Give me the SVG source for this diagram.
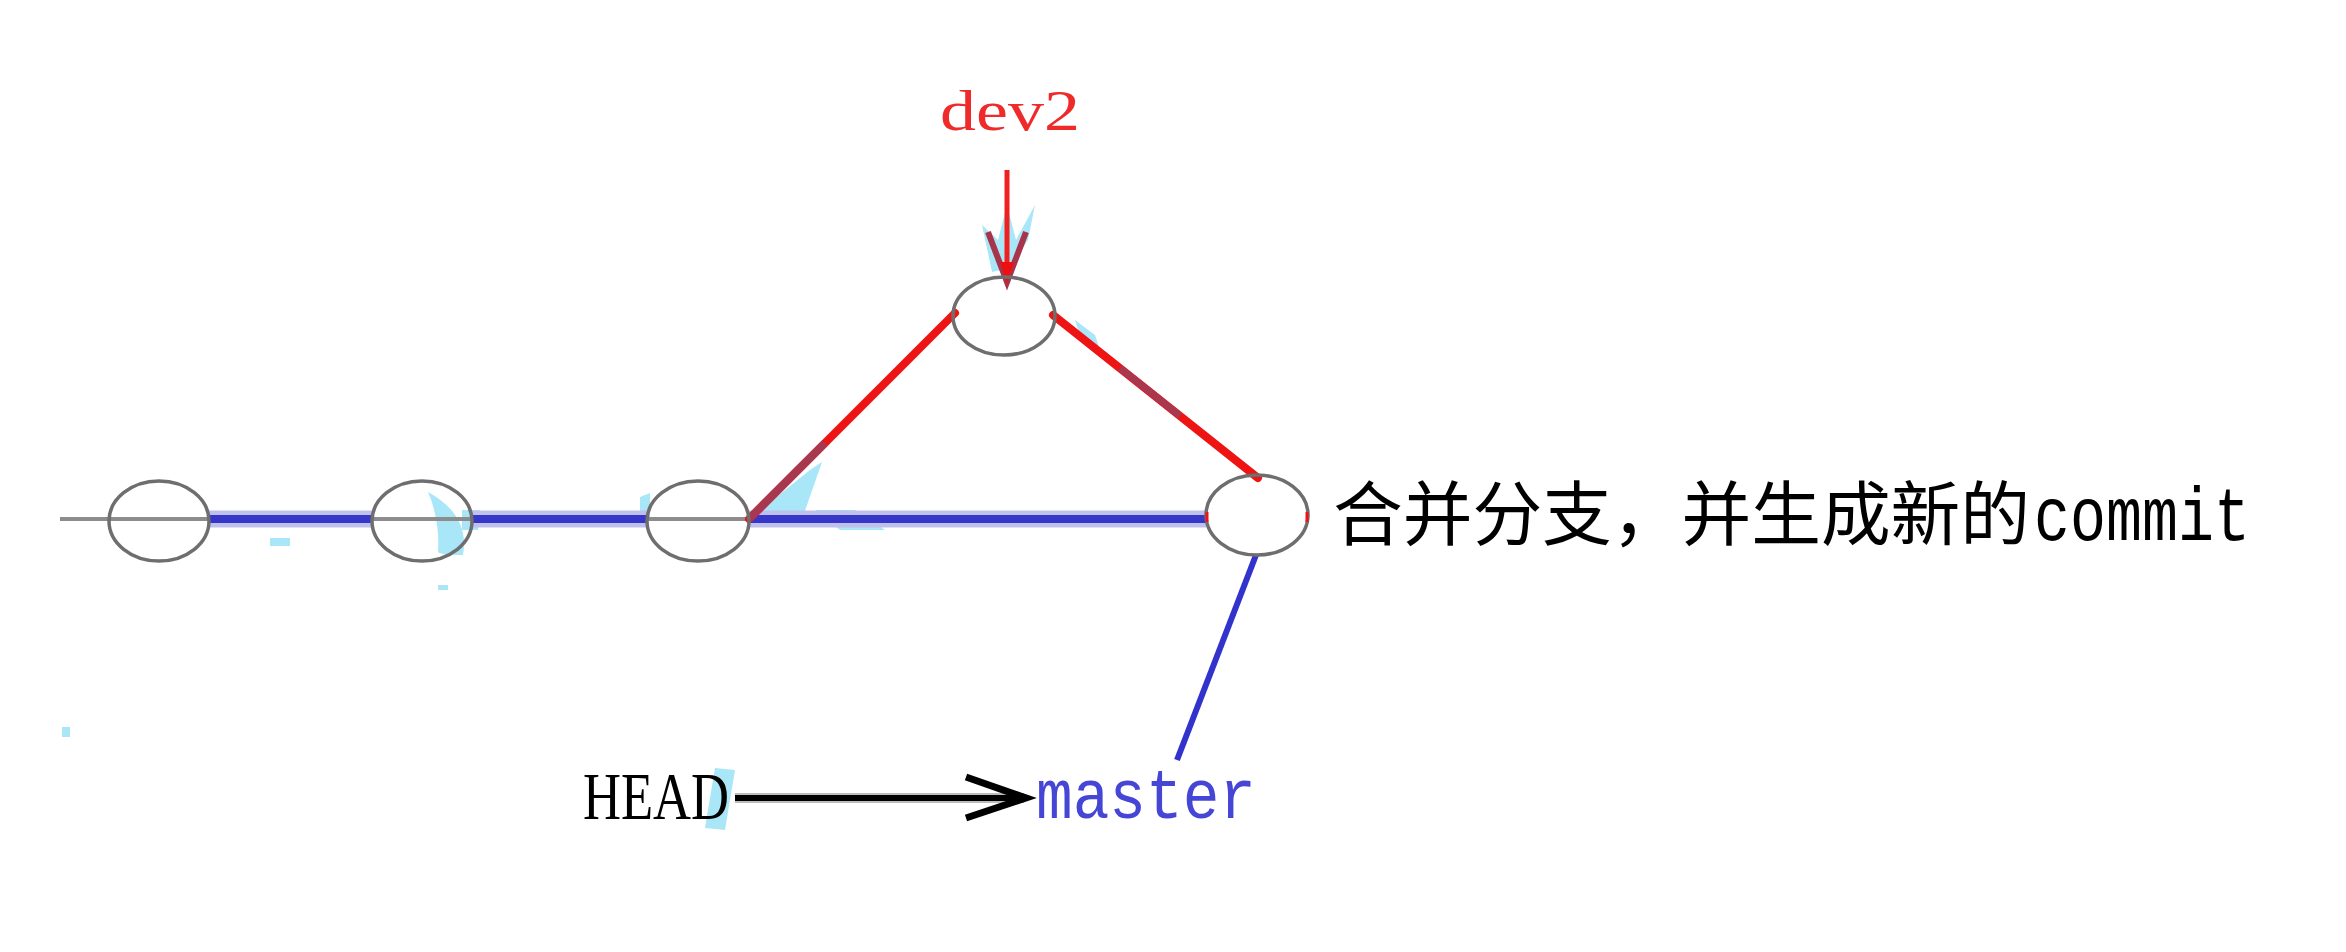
<svg xmlns="http://www.w3.org/2000/svg" width="2346" height="952" viewBox="0 0 2346 952">
<style>
.node{fill:none;stroke:#6e6e6e;stroke-width:3.5}
.blue{stroke:#3636c8;stroke-width:8;fill:none}
.halo{stroke:#c0c0ec;stroke-width:17;fill:none}
.red{stroke:#ee1414;stroke-width:8;fill:none;stroke-linecap:round}
.gray{stroke:#8c8c8c;stroke-width:4;fill:none}
.cyan{fill:#a8e6f8;stroke:none}
.serif{font-family:"Liberation Serif","Noto Sans CJK SC",serif}
.mono{font-family:"Liberation Mono","Noto Sans CJK SC",monospace}
</style>
<rect width="2346" height="952" fill="#ffffff"/>
<g id="artifacts">
<path class="cyan" d="M428,492 Q470,515 463,555 Q440,555 438,552 Q440,520 428,492 Z"/>
<path class="cyan" d="M462,510 L480,510 L478,530 L462,530 Z"/>
<path class="cyan" d="M760,510 L810,470 L822,462 L800,525 L760,525 Z"/>
<path class="cyan" d="M815,510 L855,510 L885,530 L840,530 Z"/>
<path class="cyan" d="M640,497 L650,493 L650,520 L640,520 Z"/>
<path class="cyan" d="M982,225 L998,240 L1007,205 L1016,240 L1035,205 L1028,240 L1010,268 L992,272 Z"/>
<path class="cyan" d="M715,768 L735,770 L725,830 L705,828 Z"/>
<path class="cyan" d="M1075,320 L1095,335 L1100,350 L1080,335 Z"/>
<path class="cyan" d="M62,727 L70,727 L70,737 L62,737 Z"/>
<path class="cyan" d="M438,585 L448,585 L448,590 L438,590 Z"/>
<path class="cyan" d="M270,538 L290,538 L290,546 L270,546 Z"/>
</g>
<g id="connectors">
<line class="gray" x1="60" y1="519" x2="749" y2="519"/>
<line class="halo" x1="209" y1="519" x2="372" y2="519"/>
<line class="halo" x1="472" y1="519" x2="647" y2="519"/>
<line class="halo" x1="749" y1="519" x2="1206" y2="519"/>
<line class="blue" x1="209" y1="519" x2="372" y2="519"/>
<line class="blue" x1="472" y1="519" x2="647" y2="519"/>
<line class="blue" x1="749" y1="519" x2="1206" y2="519"/>
<line class="red" x1="749" y1="519" x2="955" y2="313"/>
<line x1="749" y1="519" x2="825" y2="443" stroke="#a83850" stroke-width="8"/>
<line class="red" x1="1053" y1="315" x2="1258" y2="478"/>
<line x1="1120" y1="368" x2="1180" y2="416" stroke="#a83850" stroke-width="7"/>
<line x1="1256" y1="555" x2="1177" y2="760" stroke="#3232cc" stroke-width="6"/>
<line x1="1007" y1="170" x2="1007" y2="282" stroke="#ee2020" stroke-width="5"/>
<path d="M988,232 L1007,282 L1026,232" fill="none" stroke="#a8344c" stroke-width="6"/>
<path d="M1000,262 L1007,283 L1014,262 Z" fill="#ee1010"/>
<line x1="735" y1="798" x2="1024" y2="798" stroke="#bcbcbc" stroke-width="10"/>
<line x1="735" y1="798" x2="1024" y2="798" stroke="#000000" stroke-width="6"/>
<path d="M966,777 L1026,798 L966,818" fill="none" stroke="#000000" stroke-width="7"/>
</g>
<g id="node1"><ellipse class="node" cx="159" cy="521" rx="50" ry="40"/></g>
<g id="node2"><ellipse class="node" cx="422" cy="521" rx="50" ry="40"/></g>
<g id="node3"><ellipse class="node" cx="698" cy="521" rx="51" ry="40"/></g>
<g id="node4"><ellipse class="node" cx="1004" cy="316" rx="51" ry="39"/></g>
<g id="node5">
<ellipse class="node" cx="1257" cy="515" rx="51" ry="40"/>
<line x1="1207" y1="512" x2="1207" y2="522" stroke="#ee1414" stroke-width="3"/>
<line x1="1307" y1="512" x2="1307" y2="522" stroke="#ee1414" stroke-width="3"/>
</g>
<g id="label-dev2"><text class="serif" x="940" y="130" font-size="58" fill="#ee2a2a" textLength="140" lengthAdjust="spacingAndGlyphs">dev2</text></g>
<g id="label-merge"><text x="1333" y="540" font-size="70" fill="#000000" font-family="'Noto Sans CJK SC','Noto Sans CJK JP',sans-serif" textLength="697" lengthAdjust="spacingAndGlyphs">合并分支，并生成新的</text><text class="mono" x="2034" y="540" font-size="76" fill="#000000" textLength="216" lengthAdjust="spacingAndGlyphs">commit</text></g>
<g id="label-head"><text class="serif" x="583" y="819" font-size="68" fill="#000000" textLength="146" lengthAdjust="spacingAndGlyphs">HEAD</text></g>
<g id="label-master"><text class="mono" x="1036" y="818" font-size="70" fill="#4646d6" textLength="220" lengthAdjust="spacingAndGlyphs">master</text></g>
</svg>
